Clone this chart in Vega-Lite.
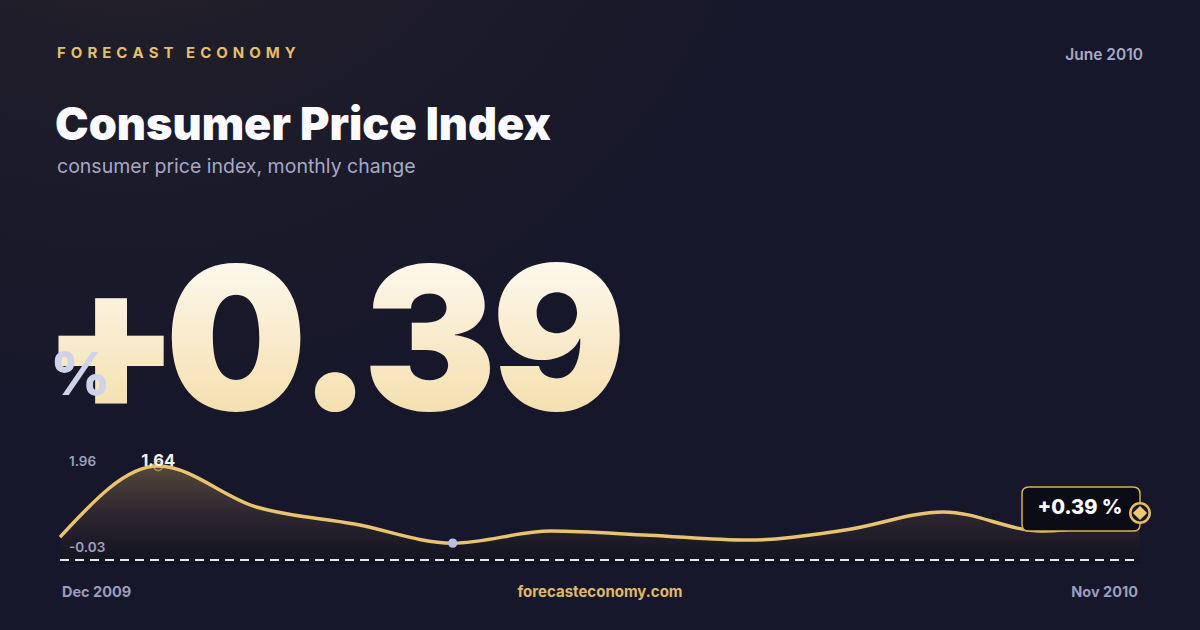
{
  "$schema": "https://vega.github.io/schema/vega-lite/v6.json",
  "description": "Consumer Price Index, monthly change, Dec 2009 - Nov 2010",
  "width": 1200,
  "height": 630,
  "padding": 0,
  "autosize": {"type": "fit", "contains": "padding"},
  "background": "#17172b",
  "config": {
    "view": {"stroke": null},
    "axis": {"disable": true},
    "text": {"font": "Inter", "baseline": "alphabetic"}
  },
  "datasets": {
    "cpi": [
      {"month": "Dec 2009", "change": -0.25},
      {"month": "Jan 2010", "change": 1.64},
      {"month": "Feb 2010", "change": 0.55},
      {"month": "Mar 2010", "change": 0.10},
      {"month": "Apr 2010", "change": -0.41},
      {"month": "May 2010", "change": -0.09},
      {"month": "Jun 2010", "change": -0.20},
      {"month": "Jul 2010", "change": -0.33},
      {"month": "Aug 2010", "change": -0.06},
      {"month": "Sep 2010", "change": 0.42},
      {"month": "Oct 2010", "change": -0.09},
      {"month": "Nov 2010", "change": 0.39}
    ]
  },
  "data": {"name": "cpi"},
  "layer": [
    {
      "data": {"values": [{}]},
      "mark": {
        "type": "rect",
        "fill": {
          "gradient": "radial",
          "x1": 0.11, "y1": 0, "r1": 0,
          "x2": 0.11, "y2": 0, "r2": 0.6,
          "stops": [
            {"offset": 0, "color": "#342c29"},
            {"offset": 0.45, "color": "#1f1d29"},
            {"offset": 1, "color": "#17172b"}
          ]
        }
      },
      "encoding": {
        "x": {"value": 0}, "x2": {"value": 1200},
        "y": {"value": 0}, "y2": {"value": 630}
      }
    },
    {
      "mark": {
        "type": "area",
        "interpolate": "monotone",
        "fill": {
          "gradient": "linear",
          "x1": 0, "y1": 0, "x2": 0, "y2": 1,
          "stops": [
            {"offset": 0, "color": "#55473a"},
            {"offset": 0.5, "color": "#2c2630"},
            {"offset": 1, "color": "#121220"}
          ]
        }
      },
      "encoding": {
        "x": {
          "field": "month", "type": "ordinal",
          "scale": {
            "type": "point", "padding": 0, "range": [60, 1140],
            "domain": ["Dec 2009", "Jan 2010", "Feb 2010", "Mar 2010", "Apr 2010", "May 2010", "Jun 2010", "Jul 2010", "Aug 2010", "Sep 2010", "Oct 2010", "Nov 2010"]
          }
        },
        "y": {
          "field": "change", "type": "quantitative",
          "scale": {"domain": [-0.965, 1.96], "range": [564, 454], "zero": false, "nice": false}
        },
        "y2": {"datum": -0.965}
      }
    },
    {
      "mark": {"type": "rule", "color": "#e6e6ee", "opacity": 0.85, "strokeWidth": 1.5, "strokeDash": [9, 6]},
      "encoding": {
        "x": {"datum": "Dec 2009", "type": "ordinal"},
        "x2": {"datum": "Nov 2010"},
        "y": {"datum": -0.86, "type": "quantitative"}
      }
    },
    {
      "mark": {"type": "line", "interpolate": "monotone", "color": "#e8c46e", "strokeWidth": 3.5},
      "encoding": {
        "x": {"field": "month", "type": "ordinal"},
        "y": {"field": "change", "type": "quantitative"}
      }
    },
    {
      "transform": [{"filter": "datum.month == 'Jan 2010'"}],
      "mark": {"type": "point", "shape": "circle", "size": 80, "stroke": "#d9b45c", "strokeWidth": 1.5, "filled": false},
      "encoding": {
        "x": {"field": "month", "type": "ordinal"},
        "y": {"field": "change", "type": "quantitative"}
      }
    },
    {
      "transform": [{"filter": "datum.month == 'Jan 2010'"}],
      "mark": {"type": "text", "fontSize": 16.5, "fontWeight": 700, "color": "#f4f2ee", "baseline": "middle", "dy": -5},
      "encoding": {
        "x": {"field": "month", "type": "ordinal"},
        "y": {"field": "change", "type": "quantitative"},
        "text": {"field": "change", "type": "quantitative", "format": ".2f"}
      }
    },
    {
      "transform": [{"filter": "datum.month == 'Apr 2010'"}],
      "mark": {"type": "point", "shape": "circle", "size": 85, "color": "#b9bfdc", "filled": true, "opacity": 1},
      "encoding": {
        "x": {"field": "month", "type": "ordinal"},
        "y": {"field": "change", "type": "quantitative"}
      }
    },
    {
      "transform": [{"filter": "datum.month == 'Nov 2010'"}],
      "mark": {
        "type": "point",
        "shape": "M -0.941 -0.22 L -0.059 -0.22 Q 0 -0.22 0 -0.161 L 0 0.094 Q 0 0.153 -0.059 0.153 L -0.941 0.153 Q -1 0.153 -1 0.094 L -1 -0.161 Q -1 -0.22 -0.941 -0.22 Z",
        "size": 55696,
        "filled": true,
        "fill": "#0c0c17",
        "stroke": "#d4b05a",
        "strokeWidth": 1.5,
        "opacity": 1,
        "fillOpacity": 1
      },
      "encoding": {
        "x": {"field": "month", "type": "ordinal"},
        "y": {"field": "change", "type": "quantitative"}
      }
    },
    {
      "transform": [{"filter": "datum.month == 'Nov 2010'"}],
      "mark": {"type": "text", "fontSize": 20, "fontWeight": 800, "color": "#ffffff", "baseline": "middle", "align": "center", "dx": -60, "dy": -5},
      "encoding": {
        "x": {"field": "month", "type": "ordinal"},
        "y": {"field": "change", "type": "quantitative"},
        "text": {"value": "+0.39 %"}
      }
    },
    {
      "transform": [{"filter": "datum.month == 'Nov 2010'"}],
      "mark": {"type": "point", "shape": "circle", "size": 380, "filled": true, "fill": "#1a1828", "stroke": "#e3bd64", "strokeWidth": 2.5, "opacity": 1},
      "encoding": {
        "x": {"field": "month", "type": "ordinal"},
        "y": {"field": "change", "type": "quantitative"}
      }
    },
    {
      "transform": [{"filter": "datum.month == 'Nov 2010'"}],
      "mark": {"type": "point", "shape": "diamond", "size": 200, "filled": true, "color": "#ebc873", "opacity": 1},
      "encoding": {
        "x": {"field": "month", "type": "ordinal"},
        "y": {"field": "change", "type": "quantitative"}
      }
    },
    {
      "transform": [{"filter": "datum.month == 'Dec 2009'"}],
      "mark": {"type": "text", "fontSize": 14.5, "fontWeight": 700, "color": "#9a9dbd", "align": "left", "dx": 2, "y": 597},
      "encoding": {
        "x": {"field": "month", "type": "ordinal"},
        "text": {"field": "month"}
      }
    },
    {
      "transform": [{"filter": "datum.month == 'Nov 2010'"}],
      "mark": {"type": "text", "fontSize": 14.5, "fontWeight": 700, "color": "#9a9dbd", "align": "right", "dx": -2, "y": 597},
      "encoding": {
        "x": {"field": "month", "type": "ordinal"},
        "text": {"field": "month"}
      }
    },
    {
      "data": {"values": [{}]},
      "mark": {"type": "text", "text": "F\u2004O\u2004R\u2004E\u2004C\u2004A\u2004S\u2004T\u2004\u2002E\u2004C\u2004O\u2004N\u2004O\u2004M\u2004Y", "x": 57, "y": 58, "align": "left", "fontSize": 15, "fontWeight": 700, "color": "#e3bf6a"}
    },
    {
      "data": {"values": [{}]},
      "mark": {"type": "text", "text": "June 2010", "x": 1143, "y": 60, "align": "right", "fontSize": 15.5, "fontWeight": 600, "color": "#a8aac6"}
    },
    {
      "data": {"values": [{}]},
      "mark": {"type": "text", "text": "Consumer Price Index", "x": 55, "y": 140, "align": "left", "fontSize": 45, "fontWeight": 900, "color": "#fafaff"}
    },
    {
      "data": {"values": [{}]},
      "mark": {"type": "text", "text": "consumer price index, monthly change", "x": 57, "y": 173, "align": "left", "fontSize": 19.5, "fontWeight": 400, "color": "#a6a8c6"}
    },
    {
      "data": {"values": [{"ch": "+"}]},
      "mark": {
        "type": "text", "x": 111, "y": 410, "align": "center", "fontSize": 200, "fontWeight": 900,
        "fill": {"gradient": "linear", "x1": 0, "y1": 0, "x2": 0, "y2": 1, "stops": [{"offset": 0, "color": "#ffffff"}, {"offset": 1, "color": "#f2d89c"}]}
      },
      "encoding": {"text": {"field": "ch"}}
    },
    {
      "data": {"values": [{"ch": "0"}]},
      "mark": {
        "type": "text", "x": 236, "y": 410, "align": "center", "fontSize": 200, "fontWeight": 900,
        "fill": {"gradient": "linear", "x1": 0, "y1": 0, "x2": 0, "y2": 1, "stops": [{"offset": 0, "color": "#ffffff"}, {"offset": 1, "color": "#f2d89c"}]}
      },
      "encoding": {"text": {"field": "ch"}}
    },
    {
      "data": {"values": [{"ch": "."}]},
      "mark": {
        "type": "text", "x": 335, "y": 410, "align": "center", "fontSize": 200, "fontWeight": 900,
        "fill": {"gradient": "linear", "x1": 0, "y1": 0, "x2": 0, "y2": 1, "stops": [{"offset": 0, "color": "#ffffff"}, {"offset": 1, "color": "#f2d89c"}]}
      },
      "encoding": {"text": {"field": "ch"}}
    },
    {
      "data": {"values": [{"ch": "3"}]},
      "mark": {
        "type": "text", "x": 430, "y": 410, "align": "center", "fontSize": 200, "fontWeight": 900,
        "fill": {"gradient": "linear", "x1": 0, "y1": 0, "x2": 0, "y2": 1, "stops": [{"offset": 0, "color": "#ffffff"}, {"offset": 1, "color": "#f2d89c"}]}
      },
      "encoding": {"text": {"field": "ch"}}
    },
    {
      "data": {"values": [{"ch": "9"}]},
      "mark": {
        "type": "text", "x": 559, "y": 410, "align": "center", "fontSize": 200, "fontWeight": 900,
        "fill": {"gradient": "linear", "x1": 0, "y1": 0, "x2": 0, "y2": 1, "stops": [{"offset": 0, "color": "#ffffff"}, {"offset": 1, "color": "#f2d89c"}]}
      },
      "encoding": {"text": {"field": "ch"}}
    },
    {
      "data": {"values": [{}]},
      "mark": {"type": "text", "text": "%", "x": 50, "y": 395, "align": "left", "fontSize": 59, "fontWeight": 800, "color": "#cfd3ea"}
    },
    {
      "data": {"values": [{}]},
      "mark": {"type": "text", "text": "1.96", "x": 69, "y": 466, "align": "left", "fontSize": 13.5, "fontWeight": 600, "color": "#9da0bd"}
    },
    {
      "data": {"values": [{}]},
      "mark": {"type": "text", "text": "-0.03", "x": 69, "y": 552, "align": "left", "fontSize": 13.5, "fontWeight": 600, "color": "#9da0bd"}
    },
    {
      "data": {"values": [{}]},
      "mark": {"type": "text", "text": "forecasteconomy.com", "x": 600, "y": 597, "align": "center", "fontSize": 15, "fontWeight": 700, "color": "#dfba64"}
    }
  ]
}
